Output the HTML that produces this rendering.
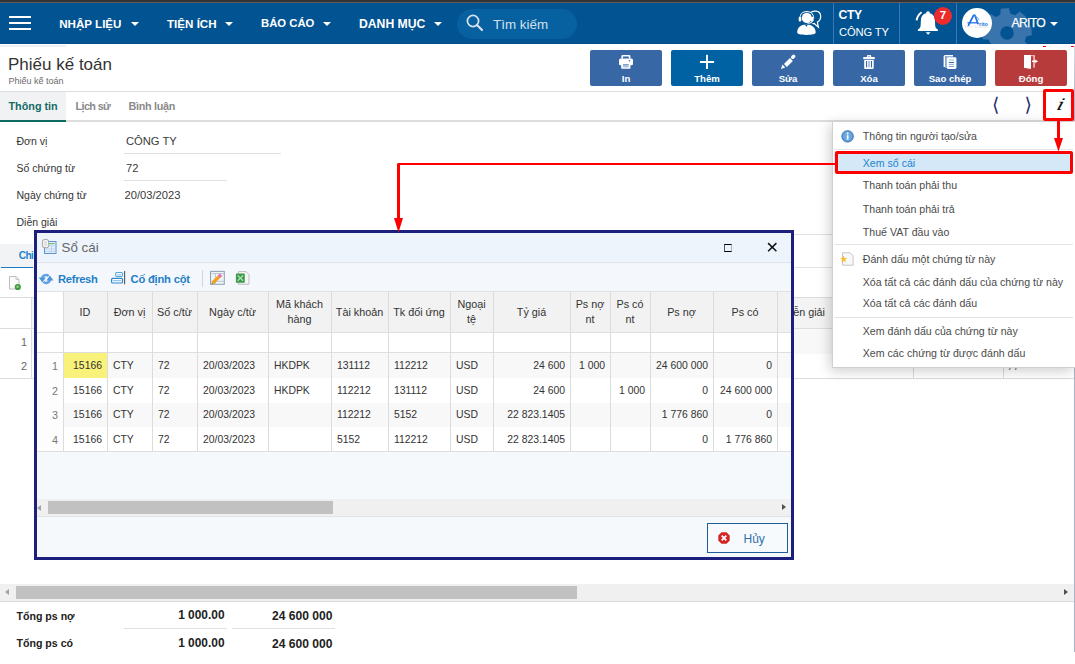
<!DOCTYPE html>
<html><head><meta charset="utf-8">
<style>
*{box-sizing:border-box;margin:0;padding:0}
html,body{width:1075px;height:664px;overflow:hidden;background:#fff}
body{position:relative;font-family:"Liberation Sans",Arial,sans-serif;color:#333;font-size:11px}
.a{position:absolute}
.t{position:absolute;white-space:nowrap;line-height:1}
.hb{position:absolute;left:9px;width:22px;height:2px;background:#fff}
.nv{color:#fff;font-weight:700}
.caret{position:absolute;width:0;height:0;border-left:4px solid transparent;border-right:4px solid transparent;border-top:4px solid #fff}
.sep{position:absolute;top:3px;width:1px;height:41px;background:#3f77b3}
.btn{position:absolute;top:50px;width:72px;height:36px;border-radius:2px;background:#3767a5}
.bl{position:absolute;top:74px;width:72px;text-align:center;color:#fff;font-weight:700;font-size:9.6px;line-height:1;white-space:nowrap}
.hl{position:absolute;height:1px;background:#e0e0e0}
.vl{position:absolute;width:1px;background:#dcdcdc}
</style></head>
<body>
<!-- top strip + navbar -->
<div class="a" style="left:0;top:0;width:1075px;height:2px;background:#333336"></div>
<div class="a" style="left:0;top:2px;width:1075px;height:1px;background:#5e5e5f"></div>
<div class="a" style="left:0;top:3px;width:1075px;height:41px;background:#025392"></div>
<div class="a" style="left:0;top:43px;width:1075px;height:1px;background:#024c88"></div>
<div class="hb" style="top:16px"></div>
<div class="hb" style="top:22px"></div>
<div class="hb" style="top:28px"></div>
<div class="t nv" style="left:59.2px;top:18px;font-size:11.6px">NHẬP LIỆU</div>
<div class="caret" style="left:131px;top:22px"></div>
<div class="t nv" style="left:167px;top:18px;font-size:11.6px">TIỆN ÍCH</div>
<div class="caret" style="left:225px;top:22px"></div>
<div class="t nv" style="left:261px;top:18px;font-size:11.3px">BÁO CÁO</div>
<div class="caret" style="left:323px;top:22px"></div>
<div class="t nv" style="left:359px;top:18px;font-size:12.2px">DANH MỤC</div>
<div class="caret" style="left:434px;top:22px"></div>
<!-- search -->
<div class="a" style="left:457px;top:9px;width:120px;height:30px;border-radius:15px;background:#0761a0"></div>
<svg class="a" style="left:466px;top:14px" width="18" height="18" viewBox="0 0 18 18"><circle cx="7" cy="7" r="5.6" fill="none" stroke="#d6e2ef" stroke-width="1.7"/><line x1="11" y1="11" x2="16" y2="16" stroke="#d6e2ef" stroke-width="2.2" stroke-linecap="round"/></svg>
<div class="t" style="left:493px;top:18.2px;font-size:13.4px;color:#d3e0ee">Tìm kiếm</div>
<!-- right nav -->
<div class="sep" style="left:833px"></div>
<div class="sep" style="left:899px"></div>
<div class="sep" style="left:956px"></div>
<svg class="a" style="left:792px;top:6px" width="34" height="34" viewBox="0 0 34 34">
 <path d="M19 6.2c1.5-.9 3.4-1.3 5.3-1.1 2.7.4 4.4 2.6 4.4 5.4 0 2.6-1.3 4.5-3.3 5.6l1 5-4.2-3.6c-.6.1-1.2.1-1.8 0" fill="none" stroke="#fff" stroke-width="1.2"/>
 <path d="M7.8 12.5c0-4.3 3-7 7-7s7 2.7 7 7" fill="none" stroke="#fff" stroke-width="1.1"/>
 <rect x="6.7" y="10.8" width="2.6" height="4.7" rx="1.1" fill="#fff"/>
 <rect x="19" y="10.8" width="2.6" height="4.7" rx="1.1" fill="#fff"/>
 <ellipse cx="14.8" cy="11.9" rx="5" ry="5.2" fill="#fff"/>
 <path d="M20.2 15.2q-.5 2.2-4.8 2.1" stroke="#fff" stroke-width="1.1" fill="none"/>
 <path d="M5.2 26.5c0-4.8 3.5-8 9.2-8s9.3 3.2 9.3 8c0 1.6-3.6 2.4-9.3 2.4s-9.2-.8-9.2-2.4z" fill="#fff"/>
 <path d="M12.8 18.6l1.6 2.2 1.6-2.2z" fill="#025392"/>
</svg>
<div class="t nv" style="left:838.5px;top:8.7px;font-size:12.2px;letter-spacing:-0.4px">CTY</div>
<div class="t" style="left:839px;top:26.6px;font-size:11.2px;color:#fff;letter-spacing:-0.15px">CÔNG TY</div>
<svg class="a" style="left:910px;top:4px" width="30" height="34" viewBox="0 0 30 34">
 <path d="M17.9 9C13.5 9 11.2 12 10.9 16L10.6 22C10.4 24 9 25 7.9 25.5V26.9H27.9V25.5C26.8 25 25.4 24 25.2 22L24.9 16C24.6 12 22.3 9 17.9 9Z" fill="#fff"/>
 <ellipse cx="18" cy="8.7" rx="1.8" ry="1.5" fill="#fff"/>
 <path d="M15.6 28.2h5l-2.5 2.5z" fill="#fff"/>
 <path d="M6.6 16.3q.8-5 5-8" stroke="#fff" stroke-width="1.9" fill="none"/>
</svg>
<div class="a" style="left:934px;top:7px;width:18px;height:18px;border-radius:50%;background:#ec2b2c"></div>
<div class="t" style="left:934px;top:10.3px;width:18px;text-align:center;font-size:11.5px;font-weight:700;color:#fff">7</div>
<svg class="a" style="left:975px;top:3px" width="65" height="41" viewBox="0 0 65 41"><path d="M23.15 12.63 L25.33 11.68 L25.74 5.80 L33.96 5.08 L35.39 10.80 L38.03 11.45 L40.24 12.33 L44.69 8.46 L51.01 13.76 L47.97 18.82 L49.37 21.15 L50.32 23.33 L56.20 23.74 L56.92 31.96 L51.20 33.39 L50.55 36.03 L49.67 38.24 L53.54 42.69 L48.24 49.01 L43.18 45.97 L40.85 47.37 L38.67 48.32 L38.26 54.20 L30.04 54.92 L28.61 49.20 L25.97 48.55 L23.76 47.67 L19.31 51.54 L12.99 46.24 L16.03 41.18 L14.63 38.85 L13.68 36.67 L7.80 36.26 L7.08 28.04 L12.80 26.61 L13.45 23.97 L14.33 21.76 L10.46 17.31 L15.76 10.99 L20.82 14.03Z M38.8 30 A6.8 6.8 0 1 0 25.2 30 A6.8 6.8 0 1 0 38.8 30Z" fill="#3a74ad" fill-rule="evenodd"/></svg>
<svg class="a" style="left:962px;top:8px" width="30" height="30" viewBox="0 0 30 30"><circle cx="15" cy="15" r="15" fill="#fff"/>
<path d="M6.2 17.8L11.5 7.4l1.4 0 3.3 8.8" fill="none" stroke="#1f6fe8" stroke-width="1.7"/><path d="M5.5 14.8h9.5" stroke="#1f6fe8" stroke-width="1.3"/><path d="M12.6 7.6q3.4 1.4 4.6 4.6" fill="none" stroke="#5aa0f0" stroke-width=".9"/>
<text x="17" y="17.8" font-family="Liberation Sans" font-size="5.6" font-weight="700" fill="#1f6fe8">rito</text>
<text x="2.4" y="20.4" font-family="Liberation Sans" font-size="2.6" fill="#d0d0d0" textLength="24">Smart Solutions</text></svg>
<div class="t" style="left:1011.5px;top:16.8px;font-size:12.2px;color:#fff;letter-spacing:-0.7px;-webkit-text-stroke:0.25px #fff">ARITO</div>
<div class="caret" style="left:1050px;top:22px"></div>

<!-- header -->
<div class="a" style="left:0;top:45px;width:66px;height:2px;background:#eef0f3"></div>
<div class="t" style="left:8px;top:55.9px;font-size:17px;color:#333">Phiếu kế toán</div>
<div class="t" style="left:8.5px;top:76.8px;font-size:9px;color:#6b6b6b">Phiếu kế toán</div>

<div class="btn" style="left:590px"></div>
<div class="btn" style="left:671px;background:#0062a2"></div>
<div class="btn" style="left:752px"></div>
<div class="btn" style="left:833px"></div>
<div class="btn" style="left:914px"></div>
<div class="btn" style="left:995px;background:#b83b3b"></div>
<svg class="a" style="left:614px;top:52px" width="24" height="20" viewBox="0 0 24 20">
 <path d="M7.4 6.6V4.2q0-1.2 1.2-1.2h6.6q1.2 0 1.2 1.2v2.4h-1.6V4.6H9v2z" fill="#fff"/>
 <rect x="5" y="6.6" width="14" height="6.7" rx="1.6" fill="#fff"/>
 <circle cx="15.4" cy="8.7" r=".8" fill="#3767a5"/>
 <path d="M7.2 11.9h9.2v4.2q0 .6-.6.6H7.8q-.6 0-.6-.6z" fill="#fff"/>
 <path d="M8.9 13.1h5.8v2.3H8.9z" fill="#a9c0dd"/>
 <path d="M8.9 12.6h5.8" stroke="#3767a5" stroke-width=".7"/>
</svg>
<svg class="a" style="left:699px;top:54px" width="16" height="16" viewBox="0 0 16 16"><path d="M8 .8v14.2M.9 8h14.2" stroke="#fff" stroke-width="1.9"/></svg>
<svg class="a" style="left:776px;top:52px" width="24" height="20" viewBox="0 0 24 20">
 <path d="M9.4 13.5L15.4 7.5" stroke="#fff" stroke-width="4.1"/>
 <path d="M4.9 16.9L6.5 12.6L9.3 15.4Z" fill="#fff"/>
 <path d="M16.7 5.2L17.7 4.2" stroke="#fff" stroke-width="3.4" stroke-linecap="round"/>
</svg>
<svg class="a" style="left:857px;top:52px" width="24" height="20" viewBox="0 0 24 20">
 <path d="M9.9 5.2V4q0-1 1-1h2.3q1 0 1 1v1.2h-1.3V4.4h-2v.8z" fill="#fff"/>
 <rect x="6.2" y="5" width="11.6" height="2.2" rx=".4" fill="#fff"/>
 <path d="M7.2 8h9.5v7.9q0 1-1 1H8.2q-1 0-1-1z" fill="#fff"/>
 <rect x="9" y="9" width="1.1" height="6.4" fill="#3767a5"/>
 <rect x="13.9" y="9" width="1.1" height="6.4" fill="#3767a5"/>
 <rect x="11.1" y="9" width="1.8" height="6.4" fill="#a9c0dd"/>
</svg>
<svg class="a" style="left:938px;top:52px" width="24" height="20" viewBox="0 0 24 20">
 <path d="M5.6 15V4.6Q5.6 3 7.2 3H15v1.3H7.9Q7 4.3 7 5.2V15z" fill="#fff"/>
 <path d="M7.2 16V6Q7.2 3.9 9.3 3.9H15V5.3H9.6Q8.6 5.3 8.6 6.3V16z" fill="#9fb8d8"/>
 <rect x="8.7" y="5.3" width="9.7" height="11.7" rx="1.4" fill="#fff"/>
 <rect x="10.8" y="7.5" width="5.2" height="1.1" fill="#a9c0dd"/>
 <rect x="10.8" y="10" width="5.2" height="1" fill="#3767a5"/>
 <rect x="10.8" y="11.9" width="5.2" height="1" fill="#8fb0d6"/>
 <rect x="10.8" y="14" width="5.2" height="1" fill="#7da2cd"/>
</svg>
<svg class="a" style="left:1019px;top:52px" width="24" height="20" viewBox="0 0 24 20">
 <path d="M5 2.9h11v12.7h-1.5V4.2H5z" fill="#eaa9a9"/>
 <path d="M14.2 4h1.5v11.5h-1.5z" fill="#e4b0b0"/>
 <path d="M5 2.9L12 4.2V16.7L5 15.8z" fill="#fff"/>
 <path d="M5 2.9h7v13.8l-7-.9z" fill="#fff"/>
 <path d="M13 9.3h4" stroke="#fff" stroke-width="1.4"/>
 <path d="M16.2 7.4L19 9.3L16.2 11.2z" fill="#fff"/>
</svg>
<div class="bl" style="left:590px">In</div>
<div class="bl" style="left:671px">Thêm</div>
<div class="bl" style="left:752px">Sửa</div>
<div class="bl" style="left:833px">Xóa</div>
<div class="bl" style="left:914px">Sao chép</div>
<div class="bl" style="left:995px">Đóng</div>

<div class="hl" style="left:0;top:91px;width:1075px;background:#dedede"></div>
<!-- tabs -->
<div class="a" style="left:0;top:92px;width:66px;height:28px;background:#f1f2f4"></div>
<div class="a" style="left:0;top:120px;width:1075px;height:2px;background:#dddddd"></div>
<div class="a" style="left:0;top:120px;width:66px;height:2px;background:#0c6b5f"></div>
<div class="t" style="left:8.5px;top:101px;font-size:10.8px;font-weight:700;color:#166b66">Thông tin</div>
<div class="t" style="left:75.5px;top:101px;font-size:10.8px;font-weight:700;color:#8a8a8a;letter-spacing:-0.6px">Lịch sử</div>
<div class="t" style="left:128.5px;top:101px;font-size:10.8px;font-weight:700;color:#8a8a8a;letter-spacing:-0.3px">Bình luận</div>

<!-- form -->
<div class="t" style="left:16.5px;top:135.9px;font-size:10.5px">Đơn vị</div>
<div class="t" style="left:16.5px;top:163.1px;font-size:10.5px">Số chứng từ</div>
<div class="t" style="left:16.5px;top:190.1px;font-size:10.5px">Ngày chứng từ</div>
<div class="t" style="left:16.5px;top:217.1px;font-size:10.5px">Diễn giải</div>
<div class="t" style="left:126px;top:135.7px;font-size:11.2px;color:#3a3a3a">CÔNG TY</div>
<div class="t" style="left:126px;top:162.9px;font-size:11.2px;color:#3a3a3a">72</div>
<div class="t" style="left:124.5px;top:189.9px;font-size:11.2px;color:#3a3a3a">20/03/2023</div>
<div class="hl" style="left:124px;top:153px;width:157px"></div>
<div class="hl" style="left:124px;top:180px;width:103px"></div>
<div class="hl" style="left:124px;top:234px;width:951px"></div>

<!-- background detail tab + grid -->
<div class="a" style="left:0;top:244px;width:33px;height:23px;background:#f1f3f5"></div>
<div class="t" style="left:18.8px;top:250.9px;font-size:10.2px;font-weight:700;color:#2483ca;letter-spacing:-0.7px">Chi tiết</div>
<div class="a" style="left:0;top:267px;width:1075px;height:1px;background:#e2e2e2"></div>
<div class="a" style="left:1px;top:266.5px;width:32px;height:1.6px;background:#1b7bc6"></div>
<svg class="a" style="left:8px;top:276px" width="14" height="15" viewBox="0 0 14 15"><path d="M1.5 .5h6.5l3 3v9.5h-9.5z" fill="#fbfbfb" stroke="#bcbcbc" stroke-width="1"/><path d="M8 .5v3h3" fill="none" stroke="#c8c8c8"/><circle cx="9.8" cy="11" r="3.1" fill="#3c9c3c"/><circle cx="9.6" cy="10.7" r="1.3" fill="#8fd08f"/></svg>
<div class="a" style="left:0;top:297px;width:1075px;height:1px;background:#dcdcdc"></div>
<div class="a" style="left:32px;top:298px;width:1043px;height:30px;background:#f3f3f3"></div>
<div class="a" style="left:0;top:328px;width:1075px;height:1px;background:#dcdcdc"></div>
<div class="a" style="left:32px;top:329px;width:1043px;height:25px;background:#f8f8f8"></div>
<div class="a" style="left:0;top:378px;width:1075px;height:1px;background:#dcdcdc"></div>
<div class="vl" style="left:31px;top:297px;height:82px"></div>
<div class="vl" style="left:913px;top:297px;height:82px"></div>
<div class="vl" style="left:1003px;top:297px;height:82px"></div>
<div class="t" style="left:0;width:27px;text-align:right;top:336.6px;font-size:10.8px;color:#666">1</div>
<div class="t" style="left:0;width:27px;text-align:right;top:360.7px;font-size:10.8px;color:#666">2</div>
<div class="t" style="left:783px;top:306.8px;font-size:10.8px;color:#333">Diễn giải</div>
<div class="t" style="left:1009px;top:361px;font-size:10.8px;color:#555">/ /</div>
<div class="a" style="left:0;top:584px;width:1074px;height:17px;background:#f0f0f0"></div>
<div class="a" style="left:0;top:601px;width:1074px;height:1px;background:#dadada"></div>
<div class="a" style="left:16px;top:586px;width:561px;height:13px;background:#c1c1c1"></div>
<div class="a" style="left:4.8px;top:588.8px;width:0;height:0;border-top:3.7px solid transparent;border-bottom:3.7px solid transparent;border-right:4.3px solid #a0a0a0"></div>
<div class="a" style="left:1064px;top:589px;width:0;height:0;border-top:3.5px solid transparent;border-bottom:3.5px solid transparent;border-left:4px solid #505050"></div>
<div class="a" style="left:1074px;top:46px;width:1px;height:606px;background:linear-gradient(#d8dee8,#a8b3c7 60px,#a8b3c7)"></div>
<div class="t" style="left:16.5px;top:610.5px;font-size:10.6px;font-weight:700;color:#222">Tổng ps nợ</div>
<div class="t" style="left:16.5px;top:637.5px;font-size:10.6px;font-weight:700;color:#222">Tổng ps có</div>
<div class="t" style="left:120px;width:104.5px;text-align:right;top:610.2px;font-size:11.9px;font-weight:700;color:#222">1 000.00</div>
<div class="t" style="left:230px;width:102.5px;text-align:right;top:610.2px;font-size:12.1px;font-weight:700;color:#222">24 600 000</div>
<div class="t" style="left:120px;width:104.5px;text-align:right;top:637.7px;font-size:11.9px;font-weight:700;color:#222">1 000.00</div>
<div class="t" style="left:230px;width:102.5px;text-align:right;top:637.7px;font-size:12.1px;font-weight:700;color:#222">24 600 000</div>
<div class="hl" style="left:124px;top:628px;width:103px"></div>
<div class="hl" style="left:232px;top:628px;width:103px"></div>
<!-- modal -->
<div class="a" style="left:34px;top:230px;width:760px;height:330px;border:3px solid #1c1f7c;background:#f5f9fc"></div>
<div class="a" style="left:37px;top:233px;width:754px;height:29px;background:#edf4fb"></div>
<div class="a" style="left:37px;top:262px;width:754px;height:1px;background:#dfe3e8"></div>
<div class="a" style="left:37px;top:263px;width:754px;height:28px;background:#f4f8fc"></div>
<div class="a" style="left:37px;top:291px;width:754px;height:1px;background:#e1e1e1"></div>
<svg class="a" style="left:38px;top:236px" width="22" height="22" viewBox="0 0 22 22"><rect x="6.5" y="5.5" width="11.5" height="12" fill="#e8f1fb" stroke="#5b95d0"/><path d="M11 7.6h5.8" stroke="#6cc070" stroke-width="1.1"/><path d="M7 9.8h10.5M7 13h10.5M7 15.4h10.5M13.4 8.5v9" stroke="#b0cdec" stroke-width=".8"/><rect x="4.4" y="3.5" width="6.3" height="8.2" rx="2" fill="#f2f2f2" stroke="#9a9a9a" stroke-width=".9"/><rect x="6.4" y="5" width="2.2" height="5" fill="#dcdcdc"/></svg>
<div class="t" style="left:61.5px;top:240.8px;font-size:13.4px;color:#666">Sổ cái</div>
<div class="a" style="left:724px;top:244px;width:8.4px;height:8px;border-style:solid;border-width:1.4px 1.3px;border-color:#000 #a9b0b5 #000 #555"></div>
<svg class="a" style="left:766.5px;top:241.5px" width="11" height="11" viewBox="0 0 11 11"><path d="M1.1 1.1L9.4 9.2M9.4 1.1L1.1 9.2" stroke="#111" stroke-width="1.5"/></svg>
<svg class="a" style="left:36px;top:268px" width="20" height="20" viewBox="0 0 20 20"><path d="M12.61 8.10A3.9 3.9 0 0 0 6.10 11.00" fill="none" stroke="#5fa2e3" stroke-width="2.6"/><path d="M2.8 9.6H9.8L6.3 14.4z" fill="#4f95dd"/><path d="M7.39 13.90A3.9 3.9 0 0 0 13.90 11.00" fill="none" stroke="#5fa2e3" stroke-width="2.6"/><path d="M10.4 12.4H17.4L13.9 7.6z" fill="#4f95dd"/></svg>
<div class="t" style="left:58px;top:273.8px;font-size:11.2px;font-weight:700;color:#1f7fc8;letter-spacing:-0.3px">Refresh</div>
<svg class="a" style="left:106px;top:266px" width="24" height="24" viewBox="0 0 24 24"><rect x="9.7" y="6.5" width="6.8" height="3.9" rx="1.1" fill="#fff" stroke="#55a3dc" stroke-width="1.1"/><path d="M11.2 8.5h4" stroke="#a8d0ee" stroke-width=".9"/><rect x="5.6" y="12.4" width="10.9" height="4.6" rx="1.1" fill="#fff" stroke="#2f86cb" stroke-width="1.2"/><path d="M7 14.7h8.2" stroke="#7dbbe8" stroke-width="1"/><path d="M18.6 5v13.3" stroke="#555" stroke-width="1.1"/></svg>
<div class="t" style="left:130.5px;top:273.5px;font-size:11.2px;font-weight:700;color:#1f7fc8;letter-spacing:-0.2px">Cố định cột</div>
<div class="a" style="left:202px;top:269.5px;width:1px;height:17px;background:#d6d6d6"></div>
<svg class="a" style="left:206px;top:268px" width="48" height="20" viewBox="0 0 48 20"><rect x="4.5" y="3.4" width="13.8" height="12.9" fill="#eef3f8" stroke="#8d9fb6"/><path d="M4.5 5.6h13.8M9.4 5.6v10.7M4.5 13.4h13.8" stroke="#b3c2d4" stroke-width=".9"/><path d="M6.6 15.1L13.6 8.1" stroke="#f2a020" stroke-width="3.4"/><path d="M13.2 8.5L15 6.7" stroke="#e070b0" stroke-width="3.4"/><path d="M5.6 16.2l1.5-.3-1.2-1.2z" fill="#6b4a1a"/><path d="M32.4 3.6h7.6l3 3v9.6H32.4z" fill="#f7f7f7" stroke="#bdbdbd"/><rect x="29.9" y="5.4" width="8.9" height="9.3" rx=".6" fill="#3b9b4b"/><path d="M31.6 7.4l5.5 5.4M37.1 7.4l-5.5 5.4" stroke="#b9e3bd" stroke-width="1.2"/></svg>
<div class="a" style="left:64px;top:292px;width:727px;height:40px;background:#f2f2f2"></div>
<div class="a" style="left:37px;top:292px;width:26px;height:40px;background:#ffffff"></div>
<div class="a" style="left:37px;top:332px;width:754px;height:20px;background:#fff"></div>
<div class="a" style="left:64px;top:353px;width:727px;height:25px;background:#f8f8f8"></div>
<div class="a" style="left:37px;top:353px;width:26px;height:25px;background:#fdfdfd"></div>
<div class="a" style="left:64px;top:378px;width:727px;height:24.5px;background:#ffffff"></div>
<div class="a" style="left:37px;top:378px;width:26px;height:24.5px;background:#fdfdfd"></div>
<div class="a" style="left:64px;top:402.5px;width:727px;height:24.5px;background:#f8f8f8"></div>
<div class="a" style="left:37px;top:402.5px;width:26px;height:24.5px;background:#fdfdfd"></div>
<div class="a" style="left:64px;top:427px;width:727px;height:25px;background:#ffffff"></div>
<div class="a" style="left:37px;top:427px;width:26px;height:25px;background:#fdfdfd"></div>
<div class="a" style="left:64px;top:353px;width:43px;height:25px;background:#f9f27a"></div>
<div class="a" style="left:37px;top:332px;width:754px;height:1px;background:#dedede"></div>
<div class="a" style="left:37px;top:352px;width:754px;height:1px;background:#dedede"></div>
<div class="a" style="left:37px;top:451px;width:754px;height:1px;background:#dedede"></div>
<div class="vl" style="left:63px;top:292px;height:159px"></div>
<div class="vl" style="left:107px;top:292px;height:159px"></div>
<div class="vl" style="left:152px;top:292px;height:159px"></div>
<div class="vl" style="left:197px;top:292px;height:159px"></div>
<div class="vl" style="left:268px;top:292px;height:159px"></div>
<div class="vl" style="left:331px;top:292px;height:159px"></div>
<div class="vl" style="left:388px;top:292px;height:159px"></div>
<div class="vl" style="left:450px;top:292px;height:159px"></div>
<div class="vl" style="left:493px;top:292px;height:159px"></div>
<div class="vl" style="left:570px;top:292px;height:159px"></div>
<div class="vl" style="left:610px;top:292px;height:159px"></div>
<div class="vl" style="left:650px;top:292px;height:159px"></div>
<div class="vl" style="left:713px;top:292px;height:159px"></div>
<div class="vl" style="left:777px;top:292px;height:159px"></div>
<div class="t" style="left:63px;width:44px;text-align:center;top:307.1px;font-size:10.8px">ID</div>
<div class="t" style="left:107px;width:45px;text-align:center;top:307.1px;font-size:10.8px">Đơn vị</div>
<div class="t" style="left:152px;width:45px;text-align:center;top:307.1px;font-size:10.8px">Số c/từ</div>
<div class="t" style="left:197px;width:71px;text-align:center;top:307.1px;font-size:10.8px">Ngày c/từ</div>
<div class="t" style="left:268px;width:63px;text-align:center;top:296.8px;font-size:10.8px;line-height:15.6px;white-space:normal">Mã khách<br>hàng</div>
<div class="t" style="left:331px;width:57px;text-align:center;top:307.1px;font-size:10.8px">Tài khoản</div>
<div class="t" style="left:388px;width:62px;text-align:center;top:307.1px;font-size:10.8px">Tk đối ứng</div>
<div class="t" style="left:450px;width:43px;text-align:center;top:296.8px;font-size:10.8px;line-height:15.6px;white-space:normal">Ngoại<br>tệ</div>
<div class="t" style="left:493px;width:77px;text-align:center;top:307.1px;font-size:10.8px">Tỷ giá</div>
<div class="t" style="left:570px;width:40px;text-align:center;top:296.8px;font-size:10.8px;line-height:15.6px;white-space:normal">Ps nợ<br>nt</div>
<div class="t" style="left:610px;width:40px;text-align:center;top:296.8px;font-size:10.8px;line-height:15.6px;white-space:normal">Ps có<br>nt</div>
<div class="t" style="left:650px;width:63px;text-align:center;top:307.1px;font-size:10.8px">Ps nợ</div>
<div class="t" style="left:713px;width:64px;text-align:center;top:307.1px;font-size:10.8px">Ps có</div>
<div class="t" style="left:37px;width:21px;text-align:right;top:361.2px;font-size:10.8px;color:#777">1</div>
<div class="t" style="left:63px;width:39px;text-align:right;top:361.2px;font-size:10.4px">15166</div>
<div class="t" style="left:113px;top:361.2px;font-size:10.4px">CTY</div>
<div class="t" style="left:158px;top:361.2px;font-size:10.4px">72</div>
<div class="t" style="left:203px;top:361.2px;font-size:10.4px">20/03/2023</div>
<div class="t" style="left:274px;top:361.2px;font-size:10.4px">HKDPK</div>
<div class="t" style="left:337px;top:361.2px;font-size:10.4px">131112</div>
<div class="t" style="left:394px;top:361.2px;font-size:10.4px">112212</div>
<div class="t" style="left:456px;top:361.2px;font-size:10.4px">USD</div>
<div class="t" style="left:493px;width:72px;text-align:right;top:361.2px;font-size:10.4px">24 600</div>
<div class="t" style="left:570px;width:35px;text-align:right;top:361.2px;font-size:10.4px">1 000</div>
<div class="t" style="left:650px;width:58px;text-align:right;top:361.2px;font-size:10.4px">24 600 000</div>
<div class="t" style="left:713px;width:59px;text-align:right;top:361.2px;font-size:10.4px">0</div>
<div class="t" style="left:37px;width:21px;text-align:right;top:386.0px;font-size:10.8px;color:#777">2</div>
<div class="t" style="left:63px;width:39px;text-align:right;top:386.0px;font-size:10.4px">15166</div>
<div class="t" style="left:113px;top:386.0px;font-size:10.4px">CTY</div>
<div class="t" style="left:158px;top:386.0px;font-size:10.4px">72</div>
<div class="t" style="left:203px;top:386.0px;font-size:10.4px">20/03/2023</div>
<div class="t" style="left:274px;top:386.0px;font-size:10.4px">HKDPK</div>
<div class="t" style="left:337px;top:386.0px;font-size:10.4px">112212</div>
<div class="t" style="left:394px;top:386.0px;font-size:10.4px">131112</div>
<div class="t" style="left:456px;top:386.0px;font-size:10.4px">USD</div>
<div class="t" style="left:493px;width:72px;text-align:right;top:386.0px;font-size:10.4px">24 600</div>
<div class="t" style="left:610px;width:35px;text-align:right;top:386.0px;font-size:10.4px">1 000</div>
<div class="t" style="left:650px;width:58px;text-align:right;top:386.0px;font-size:10.4px">0</div>
<div class="t" style="left:713px;width:59px;text-align:right;top:386.0px;font-size:10.4px">24 600 000</div>
<div class="t" style="left:37px;width:21px;text-align:right;top:410.2px;font-size:10.8px;color:#777">3</div>
<div class="t" style="left:63px;width:39px;text-align:right;top:410.2px;font-size:10.4px">15166</div>
<div class="t" style="left:113px;top:410.2px;font-size:10.4px">CTY</div>
<div class="t" style="left:158px;top:410.2px;font-size:10.4px">72</div>
<div class="t" style="left:203px;top:410.2px;font-size:10.4px">20/03/2023</div>
<div class="t" style="left:337px;top:410.2px;font-size:10.4px">112212</div>
<div class="t" style="left:394px;top:410.2px;font-size:10.4px">5152</div>
<div class="t" style="left:456px;top:410.2px;font-size:10.4px">USD</div>
<div class="t" style="left:493px;width:72px;text-align:right;top:410.2px;font-size:10.4px">22 823.1405</div>
<div class="t" style="left:650px;width:58px;text-align:right;top:410.2px;font-size:10.4px">1 776 860</div>
<div class="t" style="left:713px;width:59px;text-align:right;top:410.2px;font-size:10.4px">0</div>
<div class="t" style="left:37px;width:21px;text-align:right;top:435.3px;font-size:10.8px;color:#777">4</div>
<div class="t" style="left:63px;width:39px;text-align:right;top:435.3px;font-size:10.4px">15166</div>
<div class="t" style="left:113px;top:435.3px;font-size:10.4px">CTY</div>
<div class="t" style="left:158px;top:435.3px;font-size:10.4px">72</div>
<div class="t" style="left:203px;top:435.3px;font-size:10.4px">20/03/2023</div>
<div class="t" style="left:337px;top:435.3px;font-size:10.4px">5152</div>
<div class="t" style="left:394px;top:435.3px;font-size:10.4px">112212</div>
<div class="t" style="left:456px;top:435.3px;font-size:10.4px">USD</div>
<div class="t" style="left:493px;width:72px;text-align:right;top:435.3px;font-size:10.4px">22 823.1405</div>
<div class="t" style="left:650px;width:58px;text-align:right;top:435.3px;font-size:10.4px">0</div>
<div class="t" style="left:713px;width:59px;text-align:right;top:435.3px;font-size:10.4px">1 776 860</div>
<div class="a" style="left:37px;top:499px;width:754px;height:17px;background:#f0f0f0"></div>
<div class="a" style="left:37px;top:516px;width:754px;height:1px;background:#e2e2e2"></div>
<div class="a" style="left:48px;top:501px;width:285px;height:13px;background:#c1c1c1"></div>
<div class="a" style="left:37px;top:504.5px;width:0;height:0;border-top:3.5px solid transparent;border-bottom:3.5px solid transparent;border-right:4px solid #a3a3a3"></div>
<div class="a" style="left:782px;top:504px;width:0;height:0;border-top:3.5px solid transparent;border-bottom:3.5px solid transparent;border-left:4px solid #505050"></div>
<div class="a" style="left:707px;top:523px;width:81px;height:30px;border:1.5px solid #1f5c9a;background:#f7fafd"></div>
<svg class="a" style="left:718px;top:532px" width="12" height="12" viewBox="0 0 12 12"><path d="M3.5 .3h5l3.2 3.2v5l-3.2 3.2h-5L.3 8.5v-5z" fill="#d42424"/><path d="M3.7 3.7l4.6 4.6M8.3 3.7l-4.6 4.6" stroke="#fff" stroke-width="1.8"/></svg>
<div class="t" style="left:743.5px;top:532.6px;font-size:12px;color:#2f6eaa">Hủy</div>
<!-- menu -->
<div class="a" style="left:832px;top:121px;width:243px;height:247px;background:#fff;border:1px solid #d0d0d0;border-right:none;box-shadow:-2px 3px 12px rgba(0,0,0,.2)"></div>
<div class="a" style="left:834px;top:152px;width:239px;height:20px;background:#d5e8f8"></div>
<div class="a" style="left:834px;top:148.5px;width:239px;height:1px;background:#e3e3e3"></div>
<div class="a" style="left:834px;top:244px;width:239px;height:1px;background:#e3e3e3"></div>
<div class="a" style="left:834px;top:317px;width:239px;height:1px;background:#e3e3e3"></div>
<div class="t" style="left:862.8px;top:130.7px;font-size:10.6px;color:#4a4a4a">Thông tin người tạo/sửa</div>
<div class="t" style="left:862.8px;top:157.5px;font-size:10.6px;color:#1c84d0">Xem sổ cái</div>
<div class="t" style="left:862.8px;top:180.3px;font-size:10.6px;color:#4a4a4a">Thanh toán phải thu</div>
<div class="t" style="left:862.8px;top:204.1px;font-size:10.6px;color:#4a4a4a">Thanh toán phải trả</div>
<div class="t" style="left:862.8px;top:226.7px;font-size:10.6px;color:#4a4a4a">Thuế VAT đầu vào</div>
<div class="t" style="left:862.8px;top:253.9px;font-size:10.6px;color:#4a4a4a">Đánh dấu một chứng từ này</div>
<div class="t" style="left:862.8px;top:276.7px;font-size:10.6px;color:#4a4a4a">Xóa tất cả các đánh dấu của chứng từ này</div>
<div class="t" style="left:862.8px;top:298.4px;font-size:10.6px;color:#4a4a4a">Xóa tất cả các đánh dấu</div>
<div class="t" style="left:862.8px;top:326.3px;font-size:10.6px;color:#4a4a4a">Xem đánh dấu của chứng từ này</div>
<div class="t" style="left:862.8px;top:348.4px;font-size:10.6px;color:#4a4a4a">Xem các chứng từ được đánh dấu</div>
<svg class="a" style="left:840.5px;top:130px" width="14" height="13" viewBox="0 0 14 13"><circle cx="6.6" cy="6.3" r="5.9" fill="#4f8fcf" stroke="#3a70a8" stroke-width=".6"/><circle cx="6.6" cy="6.3" r="4.8" fill="#6aa7e0"/><rect x="5.8" y="5.2" width="1.7" height="4.5" fill="#fff"/><circle cx="6.6" cy="3.5" r="1" fill="#fff"/></svg>
<svg class="a" style="left:840px;top:251px" width="15" height="16" viewBox="0 0 15 16"><path d="M2.5 1.8h7.6l3 3v9.4H2.5z" fill="#f8f8f8" stroke="#c6c6c6"/><path d="M3.60 4.60 L4.54 7.01 L7.12 7.16 L5.12 8.79 L5.77 11.29 L3.60 9.90 L1.43 11.29 L2.08 8.79 L0.08 7.16 L2.66 7.01Z" fill="#f8bd2a"/></svg>
<div class="t" style="left:992px;top:95px;font-size:19px;color:#1d2d6b;font-family:'DejaVu Sans',sans-serif">⟨</div>
<div class="t" style="left:1024.5px;top:95px;font-size:19px;color:#1d2d6b;font-family:'DejaVu Sans',sans-serif">⟩</div>
<div class="a" style="left:1046px;top:92px;width:25px;height:26px;background:#fff"></div>
<div class="t" style="left:1058.5px;top:96.5px;font-size:16px;color:#111;font-family:'DejaVu Math TeX Gyre',serif;transform:scaleX(1.35) skewX(-12deg);transform-origin:0 0">&#x1D456;</div>
<div class="a" style="left:1043px;top:46px;width:3px;height:1.2px;background:#ff0000"></div>
<div class="a" style="left:1071px;top:46px;width:3px;height:1.2px;background:#ff0000"></div>
<div class="a" style="left:1043px;top:89px;width:31px;height:32px;border:3px solid #ff0000;border-radius:2px"></div>
<div class="a" style="left:1057px;top:121px;width:3px;height:19px;background:#ff0000"></div>
<svg class="a" style="left:1054px;top:138px" width="9" height="14" viewBox="0 0 9 14"><path d="M0 0H9L4.5 13.5z" fill="#ff0000"/></svg>
<div class="a" style="left:835px;top:151px;width:238px;height:23px;border:3px solid #ff0000;border-radius:2px"></div>
<div class="a" style="left:397px;top:162.5px;width:441px;height:2.9px;background:#ff0000;border-top-left-radius:2px"></div>
<div class="a" style="left:397px;top:162.5px;width:3px;height:57px;background:#ff0000;border-top-left-radius:2px"></div>
<svg class="a" style="left:394px;top:218px" width="9" height="15" viewBox="0 0 9 15"><path d="M0 0H9L4.5 14.5z" fill="#ff0000"/></svg>
</body></html>
